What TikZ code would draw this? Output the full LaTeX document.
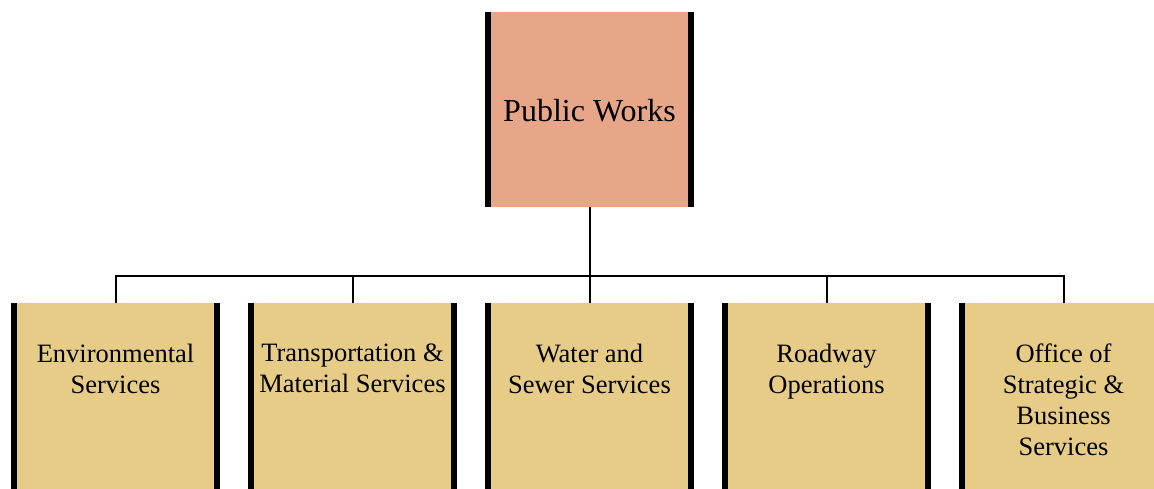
\documentclass[tikz,border=0pt]{standalone}
\usepackage{fontspec}
\setmainfont{Liberation Serif}
\usepackage{tikz}
\usetikzlibrary{positioning}
\definecolor{topfill}{HTML}{E7A687}
\definecolor{subfill}{HTML}{E6CC86}
\tikzstyle{topbox}=[rectangle,fill=topfill,inner sep=0pt,
                    minimum width=209pt,minimum height=195pt]
\tikzstyle{subbox}=[rectangle,fill=subfill,inner sep=0pt,anchor=north,
                    minimum width=209pt,minimum height=210pt]
\tikzstyle{bar}=[line width=6pt]
\tikzstyle{wire}=[line width=2pt]
\tikzstyle{subtext}=[align=center,inner sep=0pt,anchor=north,
                     font=\fontsize{26.5}{31}\selectfont]

\begin{document}
\begin{tikzpicture}[x=1pt,y=-1pt]
    \useasboundingbox (0,0) rectangle (1154,488);
    \clip (0,0) rectangle (1154,488);
    \newcommand{\gap}{237}
    % head of department
    \node (pw) at (589.5,109.5) [topbox]{};
    \node (pwt) at ([yshift=-1pt]pw.center) [font=\fontsize{32}{38}\selectfont]{Public Works};
    % divisions
    \node (env) at (115.5,303) [subbox]{};
    \node (tms) at (115.5+\gap,303) [subbox]{};
    \node (wss) at (115.5+2*\gap,303) [subbox]{};
    \node (rop) at (115.5+3*\gap,303) [subbox]{};
    \node (osb) at (115.5+4*\gap,303) [subbox]{};
    \foreach \n in {pw,env,tms,wss,rop,osb}
      \draw[bar] ([xshift=3pt]\n.north west) -- ([xshift=3pt]\n.south west)
                 ([xshift=-3pt]\n.north east) -- ([xshift=-3pt]\n.south east);
    \node (envt) at ([yshift=-41pt]env.north) [subtext]{Environmental\\Services};
    \node (tmst) at ([yshift=-41pt]tms.north) [subtext]{Transportation \&\\Material Services};
    \node (wsst) at ([yshift=-41pt]wss.north) [subtext]{Water and\\Sewer Services};
    \node (ropt) at ([yshift=-41pt]rop.north) [subtext]{Roadway\\Operations};
    \node (osbt) at ([yshift=-41pt]osb.north) [subtext]{Office of\\Strategic \&\\Business\\Services};
    % connectors
    \coordinate (bus) at (589.5,276);
    \draw[wire] (pw.south) -- (bus);
    \foreach \n in {env,tms,wss,rop,osb}
      \draw[wire] (\n.north) |- (bus);
\end{tikzpicture}
\end{document}
